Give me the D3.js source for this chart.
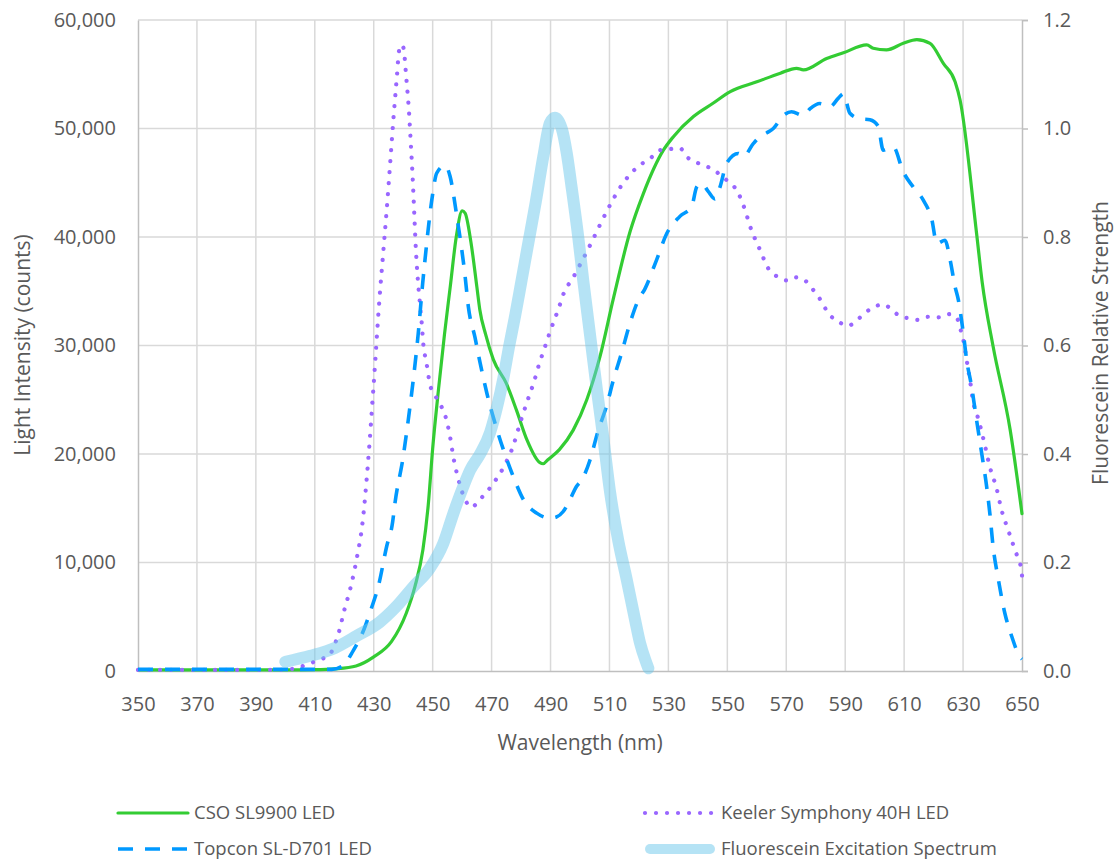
<!DOCTYPE html>
<html><head><meta charset="utf-8">
<script src="https://cdn.jsdelivr.net/npm/d3@7"></script>
<style>
body{margin:0;background:#fff;}
text{font-family:"Open Sans",sans-serif;fill:#595959;}
</style></head>
<body><svg id="c" width="1117" height="861"></svg>
<script>
// ---- data ----
const xTicks = [350,370,390,410,430,450,470,490,510,530,550,570,590,610,630,650];
const yTicks = [0,10000,20000,30000,40000,50000,60000];
const y2Ticks = [0,0.2,0.4,0.6,0.8,1.0,1.2];

const csoNm = [350,370,390,400,410,417,424,430,436,441,444,446.7,448.5,450,452,454,456,458,460,461,463,465,466,468,470.6,475,478.5,482,486.4,487.5,489,493,497.7,502.3,506.8,511.3,517,521.5,528.3,531.7,538.5,545,551,560,568,573.5,575.8,583.7,589.4,597.3,599.5,604,609.7,614.3,618.8,623.3,627.3,629,634.6,636.5,640.2,646,650];
const csoVal = [100,100,100,100,120,200,460,1300,2700,5300,7800,11200,15300,20500,26000,31000,35500,40000,42400,42200,39500,35400,33300,31000,28700,26500,24000,21300,19200,19100,19450,20400,22200,25000,29000,34300,40500,44000,48000,49250,51100,52300,53400,54300,55100,55550,55400,56450,56980,57700,57400,57240,57850,58200,57850,56000,54300,52600,40300,35800,29900,22200,14500];

const keelerNm = [350,370,390,400,406,409,412.7,415.5,417,418.2,420,422,424.3,426.1,428,430,432,433.2,434.4,435.5,436.6,437.8,438.6,439.1,440,441.1,442,442.6,443.2,443.7,444.2,444.9,445.7,446.2,446.8,447.9,449.1,450.8,452.5,454.2,455.9,457,458.7,461,463.2,466,470.6,474.5,477.4,479.6,481.9,484.2,486.4,488.7,490,492.6,494.9,497.1,500.5,503.9,507.1,510.5,514.2,518.9,524.5,527.1,530.5,533.9,536.2,539,545.2,550.3,553.2,556,557.7,561.1,563.9,567.3,570,572.4,576.3,578.6,580.9,584.8,587.7,590.8,593.9,596.7,599.5,602.9,605.8,608.6,611.8,614.8,618.2,621.6,624.7,627.8,629,630.1,631.2,632.4,633.5,634.6,635.7,637.4,639.1,641.4,643.1,645.3,647.6,649.9,650];
const keelerVal = [100,100,100,120,460,770,1140,1690,2615,3600,5600,7540,10460,13450,19000,26500,34500,38500,42500,46500,50600,54600,57200,57700,57500,54500,51400,48500,45550,42500,39400,36300,33800,32350,30200,28400,26400,25400,24600,23600,21600,19750,17700,15800,15100,15800,17300,19000,20800,22800,24700,26500,28500,30350,31400,33300,35100,36000,37700,39500,41300,43100,44800,46300,47400,48000,48100,48200,47400,46950,46200,45100,44300,42500,41000,38800,37100,36300,36000,36300,36000,35300,34500,32800,32200,31800,32300,33000,33500,33800,33300,32700,32500,32350,32650,32600,32900,32600,31600,30500,28700,26700,24700,23750,22700,20800,18800,16800,14800,13000,11150,9150,8800];

const topconNm = [350,370,390,410,415.8,419.4,423,426.7,429.1,431.6,434.4,436.4,437.2,440,441.7,443.4,445.1,446.6,447.4,449.7,451.4,454.2,455.9,458.2,461,462.1,464.4,466.1,468.4,471.2,474,477.4,480.8,485.3,489.6,492,494.3,496.6,498.8,500.6,503.4,506.2,509,511.3,514.1,516.9,519.8,522,526,529.4,533.9,537.9,539.6,541.3,543.5,545.8,547.5,549.8,553.7,555.4,558.8,561.1,563.4,565.6,569,571.8,575.8,578,581.4,584.8,587.7,589.4,591.6,595,598.4,601.2,602.9,606.3,609.7,613.1,616.5,619.4,621.1,623.9,625.6,627.3,628.4,630.1,631.2,632.9,634.6,636.3,638,639.1,640.2,642,644.2,646.5,649.3,650];
const topconVal = [150,150,150,150,150,460,1850,3850,5700,7850,11500,13700,15450,19750,23100,26800,31100,35700,37900,43400,45900,46600,45600,41900,36400,33600,30700,28400,25600,22800,20400,17900,15800,14550,14100,14200,14700,15800,17000,17600,19450,22200,24400,26800,29300,32000,34200,35200,37900,40300,41900,42800,44600,44950,44200,43500,44600,46800,47700,47400,48600,49250,49600,50000,51200,51550,51200,51800,52300,52000,52800,53200,51400,50900,50800,50200,48000,48300,46000,44600,43400,41600,39400,39700,37900,35400,34200,31100,28700,26200,23100,20100,17000,14500,11450,8400,5300,3200,1300,1100];

const fluorNm = [400,408.5,417,424.3,432,437.7,443.4,449.1,453.6,457,460.4,462.7,466.1,469.5,472,474,476,478,480,482.5,485,487.6,489.8,491.5,493.8,495.5,497.2,499.4,501.1,503.4,505.7,507.9,510.2,513,515.8,518.7,520.4,522.6,523.2];
const fluorVal = [0.017,0.028,0.043,0.065,0.09,0.119,0.155,0.19,0.235,0.29,0.34,0.37,0.40,0.44,0.49,0.54,0.60,0.655,0.715,0.79,0.865,0.95,1.01,1.02,1.0,0.955,0.89,0.80,0.72,0.62,0.52,0.43,0.33,0.24,0.17,0.094,0.051,0.014,0.005];

const seriesNames = ["CSO SL9900 LED","Keeler Symphony 40H LED","Topcon SL-D701 LED","Fluorescein Excitation Spectrum"];

// ---- layout ----
const svg = d3.select("#c");
const L=138, R=1022, T=20, B=671;
const x = d3.scaleLinear().domain([350,650]).range([L,R]);
const y = d3.scaleLinear().domain([0,60000]).range([B,T]);
const y2 = d3.scaleLinear().domain([0,1.2]).range([B,T]);

// gridlines
const g = svg.append("g");
g.selectAll("line.h").data(yTicks.slice(1)).join("line")
  .attr("x1",L).attr("x2",R).attr("y1",d=>y(d)).attr("y2",d=>y(d))
  .attr("stroke","#d9d9d9").attr("stroke-width",1.5);
g.selectAll("line.v").data(xTicks.slice(1,-1)).join("line")
  .attr("x1",d=>x(d)).attr("x2",d=>x(d)).attr("y1",T).attr("y2",B)
  .attr("stroke","#d9d9d9").attr("stroke-width",1.5);

// axes
const ax = svg.append("g").attr("transform",`translate(0,${B})`)
  .call(d3.axisBottom(x).tickValues(xTicks).tickSize(0).tickPadding(24).tickFormat(d3.format("d")));
const ay = svg.append("g").attr("transform",`translate(${L},0)`)
  .call(d3.axisLeft(y).tickValues(yTicks).tickSize(0).tickPadding(22).tickFormat(d3.format(",")));
const ay2 = svg.append("g").attr("transform",`translate(${R},0)`)
  .call(d3.axisRight(y2).tickValues(y2Ticks).tickSize(6).tickPadding(15).tickFormat(d3.format(".1f")));
[ax,ay,ay2].forEach(a=>{
  a.select(".domain").attr("stroke","#bfbfbf").attr("stroke-width",1.5);
  a.selectAll(".tick line").attr("stroke","#bfbfbf").attr("stroke-width",1.5);
  a.selectAll(".tick text").attr("font-size",20).attr("fill","#595959").attr("font-family","'Open Sans',sans-serif");
});
ax.selectAll(".tick text").attr("dy","0.35em").attr("y",33);

// titles
svg.append("text").attr("x",(L+R)/2).attr("y",750).attr("text-anchor","middle").attr("font-size",21).text("Wavelength (nm)");
svg.append("text").attr("transform","translate(30,345) rotate(-90)").attr("text-anchor","middle").attr("font-size",21).text("Light Intensity (counts)");
svg.append("text").attr("transform","translate(1093,343) rotate(-90)").attr("text-anchor","middle").attr("font-size",21).attr("dy","0.7em").text("Fluorescein Relative Strength");

// lines
const mk = (nm,vals)=> nm.map((d,i)=>[d,vals[i]]);
const line = sc => d3.line().x(d=>x(d[0])).y(d=>sc(d[1])).curve(d3.curveMonotoneX);
const styles = [
  {stroke:"#33cc33", w:3.2, dash:null, cap:"round", op:1},
  {stroke:"#9966ff", w:4.2, dash:"0.01 11", cap:"round", op:1},
  {stroke:"#0099ff", w:3.6, dash:"15 12", cap:"butt", op:1},
  {stroke:"#6cc8ec", w:12, dash:null, cap:"round", op:0.5}
];
const data = [mk(csoNm,csoVal),mk(keelerNm,keelerVal),mk(topconNm,topconVal),mk(fluorNm,fluorVal)];
const scales=[y,y,y,y2];
data.forEach((d,i)=>{
  const s=styles[i];
  svg.append("path").datum(d).attr("d",line(scales[i]))
    .attr("fill","none").attr("stroke",s.stroke).attr("stroke-width",s.w)
    .attr("stroke-dasharray",s.dash).attr("stroke-linecap",s.cap).attr("stroke-linejoin","round")
    .attr("stroke-opacity",s.op);
});

// legend
const legPos = [[118,813],[645,813],[118,849],[645,849]];
seriesNames.forEach((n,i)=>{
  const s=styles[i], [lx,ly]=legPos[i];
  svg.append("line").attr("x1",lx+(s.w>10?5:0)).attr("x2",lx+70-(s.w>10?5:0)).attr("y1",ly).attr("y2",ly)
    .attr("stroke",s.stroke).attr("stroke-width",s.w>10?10:s.w).attr("stroke-dasharray",s.dash)
    .attr("stroke-linecap",s.cap).attr("stroke-opacity",s.op);
  svg.append("text").attr("x",lx+76).attr("y",ly).attr("dy","0.35em").attr("font-size",18.5).text(n);
});
</script></body></html>
